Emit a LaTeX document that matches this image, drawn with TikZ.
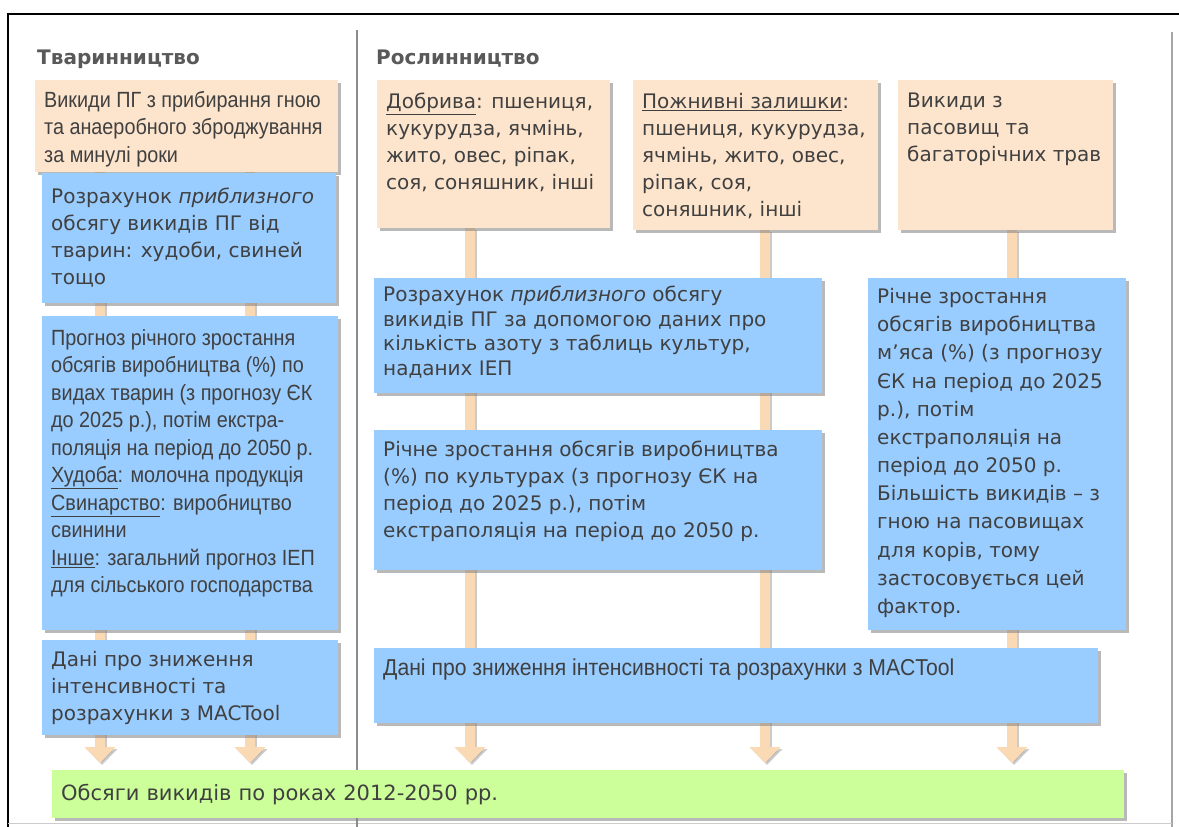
\documentclass[tikz,border=0pt]{standalone}
\usepackage{fontspec}
\setmainfont{DejaVu Sans}
\newfontfamily\narrowf[FakeStretch=0.9]{Liberation Sans}
\newfontfamily\arialf[FakeStretch=0.92]{Liberation Sans}
\usetikzlibrary{shadows,arrows.meta}
\definecolor{peach}{RGB}{253,229,205}
\definecolor{skyb}{RGB}{153,204,255}
\definecolor{lgreen}{RGB}{204,255,153}
\definecolor{txt}{RGB}{64,64,64}
\definecolor{pipec}{RGB}{250,218,180}
\definecolor{ttl}{RGB}{89,89,89}
\pgfdeclarelayer{back}
\pgfdeclarelayer{bg}
\pgfsetlayers{back,bg,main}
\tikzset{
  shd/.style={drop shadow={shadow xshift=2.5pt, shadow yshift=-2.5pt, fill=black!50, opacity=0.55}},
  obox/.style={fill=peach, shd},
  bbox/.style={fill=skyb, shd},
  gbox/.style={fill=lgreen, shd},
  ttlnode/.style={text=ttl, font=\bfseries\fontsize{20}{24}\selectfont, inner sep=0pt},
  pipe/.style={line width=10pt, draw=pipec, -{Triangle[width=30pt,length=16pt]}},
  pipeshade/.style={line width=10pt, draw=black!40, opacity=0.5, -{Triangle[width=30pt,length=16pt]}},
  framel/.style={line width=1.5pt}
}
\newcommand\wf{\fontsize{20}{27}\selectfont}
\newcommand\wfb{\fontsize{20}{24.5}\selectfont}
\newcommand\wfc{\fontsize{20}{28.2}\selectfont}
\newcommand\nf{\narrowf\fontsize{22}{27.5}\selectfont}
\newcommand\af{\arialf\fontsize{23}{27}\selectfont}
% name, style, x, y, w, h, font, top pad, text
\newcommand\bx[9]{%
  \node[#2, anchor=north west, inner xsep=9pt, inner ysep=5pt, minimum width=#5pt, minimum height=#6pt, text=txt] (#1) at (#3,#4)
  {\parbox[c][\dimexpr#6pt-10pt\relax][t]{\dimexpr#5pt-18pt\relax}{#7\raggedright\vspace*{#8pt}#9}};}
\begin{document}
\begin{tikzpicture}[x=1pt,y=-1pt]
\useasboundingbox (0,0) rectangle (1179,827);
\begin{pgfonlayer}{back}
\fill[white] (0,0) rectangle (1179,827);
\end{pgfonlayer}
% frame
\draw[framel, black] (8,827) -- (8,14) -- (1179,14);
\draw[framel, black!35] (1172,32) -- (1172,827);
\draw[line width=1pt, black!20] (8,823) -- (1172,823);
\draw[framel, black!45] (357,30) -- (357,827);
% titles
\node[ttlnode, anchor=base west] (T1) at (37,64) {Тваринництво};
\node[ttlnode, anchor=base west] (T2) at (376,64) {Рослинництво};
% left column
\bx{O1}{obox}{35}{80}{303}{92}{\nf}{6}{Викиди ПГ з прибирання гною\\та анаеробного зброджування\\за минулі роки}
\bx{B1}{bbox}{42}{173}{294}{130}{\wf}{10}{Розрахунок \textit{приблизного}\\обсягу викидів ПГ від\\тварин: худоби, свиней\\тощо}
\bx{B2}{bbox}{42}{316}{296}{314}{\nf}{8}{Прогноз річного зростання\\обсягів виробництва (\%) по\\видах тварин (з прогнозу ЄК\\до 2025 р.), потім екстра-\\поляція на період до 2050 р.\\\underline{Худоба}: молочна продукція\\\underline{Свинарство}: виробництво\\свинини\\\underline{Інше}: загальний прогноз ІЕП\\для сільського господарства}
\bx{B3}{bbox}{42}{640}{296}{95}{\wf}{6}{Дані про зниження\\інтенсивності та\\розрахунки з MACTool}
% right column
\bx{OA}{obox}{377}{80}{233}{148}{\wf}{8}{\underline{Добрива}: пшениця,\\кукурудза, ячмінь,\\жито, овес, ріпак,\\соя, соняшник, інші}
\bx{OB}{obox}{633}{80}{245}{150}{\wf}{8}{\underline{Пожнивні залишки}:\\пшениця, кукурудза,\\ячмінь, жито, овес,\\ріпак, соя,\\соняшник, інші}
\bx{OC}{obox}{898}{80}{215}{150}{\wf}{8}{Викиди з\\пасовищ та\\багаторічних трав}
\bx{BD}{bbox}{374}{278}{448}{115}{\wfb}{3}{Розрахунок \textit{приблизного} обсягу\\викидів ПГ за допомогою даних про\\кількість азоту з таблиць культур,\\наданих ІЕП}
\bx{BE}{bbox}{374}{430}{448}{140}{\wf}{6}{Річне зростання обсягів виробництва\\(\%) по культурах (з прогнозу ЄК на\\період до 2025 р.), потім\\екстраполяція на період до 2050 р.}
\bx{BF}{bbox}{868}{278}{258}{352}{\wfc}{5}{Річне зростання\\обсягів виробництва\\м’яса (\%) (з прогнозу\\ЄК на період до 2025\\р.), потім\\екстраполяція на\\період до 2050 р.\\Більшість викидів – з\\гною на пасовищах\\для корів, тому\\застосовується цей\\фактор.}
\bx{BG}{bbox}{374}{648}{724}{75}{\af}{6}{Дані про зниження інтенсивності та розрахунки з MACTool}
% result
\node[gbox, anchor=north west, minimum width=1072pt, minimum height=48pt, text width=1054pt, inner xsep=9pt, align=left, text=txt, font=\fontsize{21}{25}\selectfont] (G) at (52,770) {Обсяги викидів по роках 2012-2050 рр.};
% pipes
\begin{pgfonlayer}{bg}
\foreach \src/\dx in {O1/65, O1/215, OA/93, OB/132, OC/114}{
  \draw[pipeshade] ([xshift=\dx pt+2pt, yshift=-2pt]\src.south west) -- ([xshift=\dx pt+2pt, yshift=5pt]\src.south west |- G.north);
  \draw[pipe] ([xshift=\dx pt]\src.south west) -- ([xshift=\dx pt, yshift=7pt]\src.south west |- G.north);
}
\end{pgfonlayer}
\end{tikzpicture}
\end{document}
